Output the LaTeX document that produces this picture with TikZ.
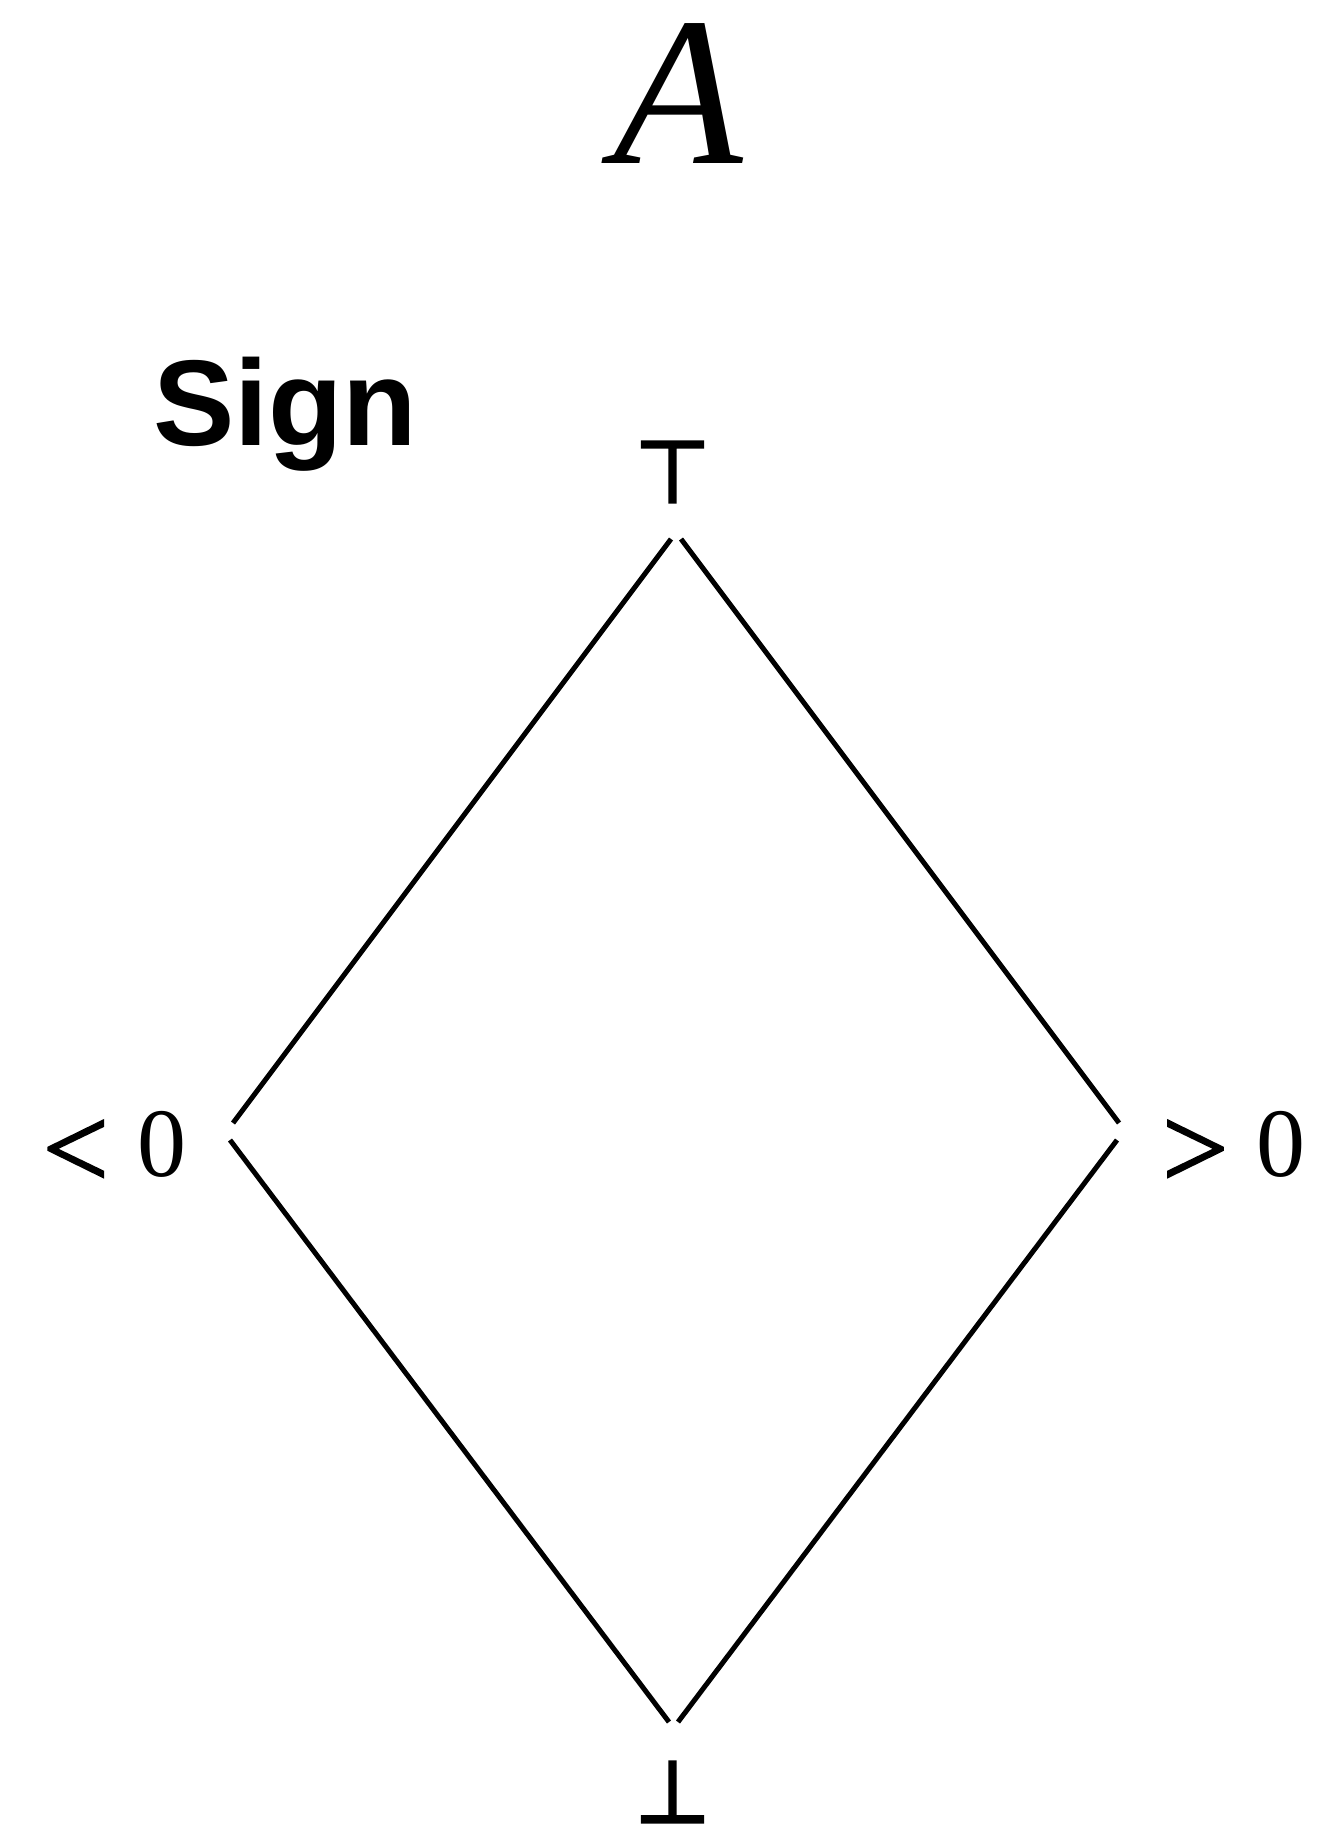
\RequirePackage{fix-cm}
\documentclass[tikz,border=0pt]{standalone}
\usepackage{fontspec}
\setmainfont{Liberation Serif}
\setsansfont{Liberation Sans}
\newfontface\symfont{DejaVu Sans}[FakeBold=3.5]
\newfontface\relfont{Liberation Serif}[FakeBold=1.5]
\begin{document}
\begin{tikzpicture}[x=1pt,y=-1pt,
  conn/.style={line width=5pt},
  lbl/.style={inner sep=0pt, outer sep=0pt}]
\useasboundingbox (0,0) rectangle (1323,1825);
\node[lbl, anchor=base] (title) at (678,163) {\fontsize{212}{220}\selectfont\itshape A};
\node[lbl, anchor=base west] (sign) at (153,445) {\fontsize{122}{130}\selectfont\sffamily\bfseries Sign};
\node[lbl, anchor=base] (top) at (672.5,502) {\fontsize{86}{100}\selectfont\symfont ⊤};
\node[lbl, anchor=base] (bot) at (672.5,1822) {\fontsize{86}{100}\selectfont\symfont ⊥};
\node[lbl, anchor=base east] (lt) at (186,1176) {\raisebox{-12pt}{\fontsize{118}{120}\selectfont\relfont <}\hspace{28pt}\fontsize{98}{100}\selectfont 0};
\node[lbl, anchor=base west] (rt) at (1162,1176) {\raisebox{-12pt}{\fontsize{118}{120}\selectfont\relfont >}\hspace{28pt}\fontsize{98}{100}\selectfont 0};
\draw[conn] ([xshift=-1.5pt,yshift=-37pt]top.base) -- ([xshift=47pt,yshift=53pt]lt.base east);
\draw[conn] ([xshift=8.5pt,yshift=-37pt]top.base) -- ([xshift=-43pt,yshift=53pt]rt.base west);
\draw[conn] ([xshift=44pt,yshift=36pt]lt.base east) -- ([xshift=-3.5pt,yshift=100pt]bot.base);
\draw[conn] ([xshift=-45pt,yshift=36pt]rt.base west) -- ([xshift=5.5pt,yshift=100pt]bot.base);
\end{tikzpicture}
\end{document}
